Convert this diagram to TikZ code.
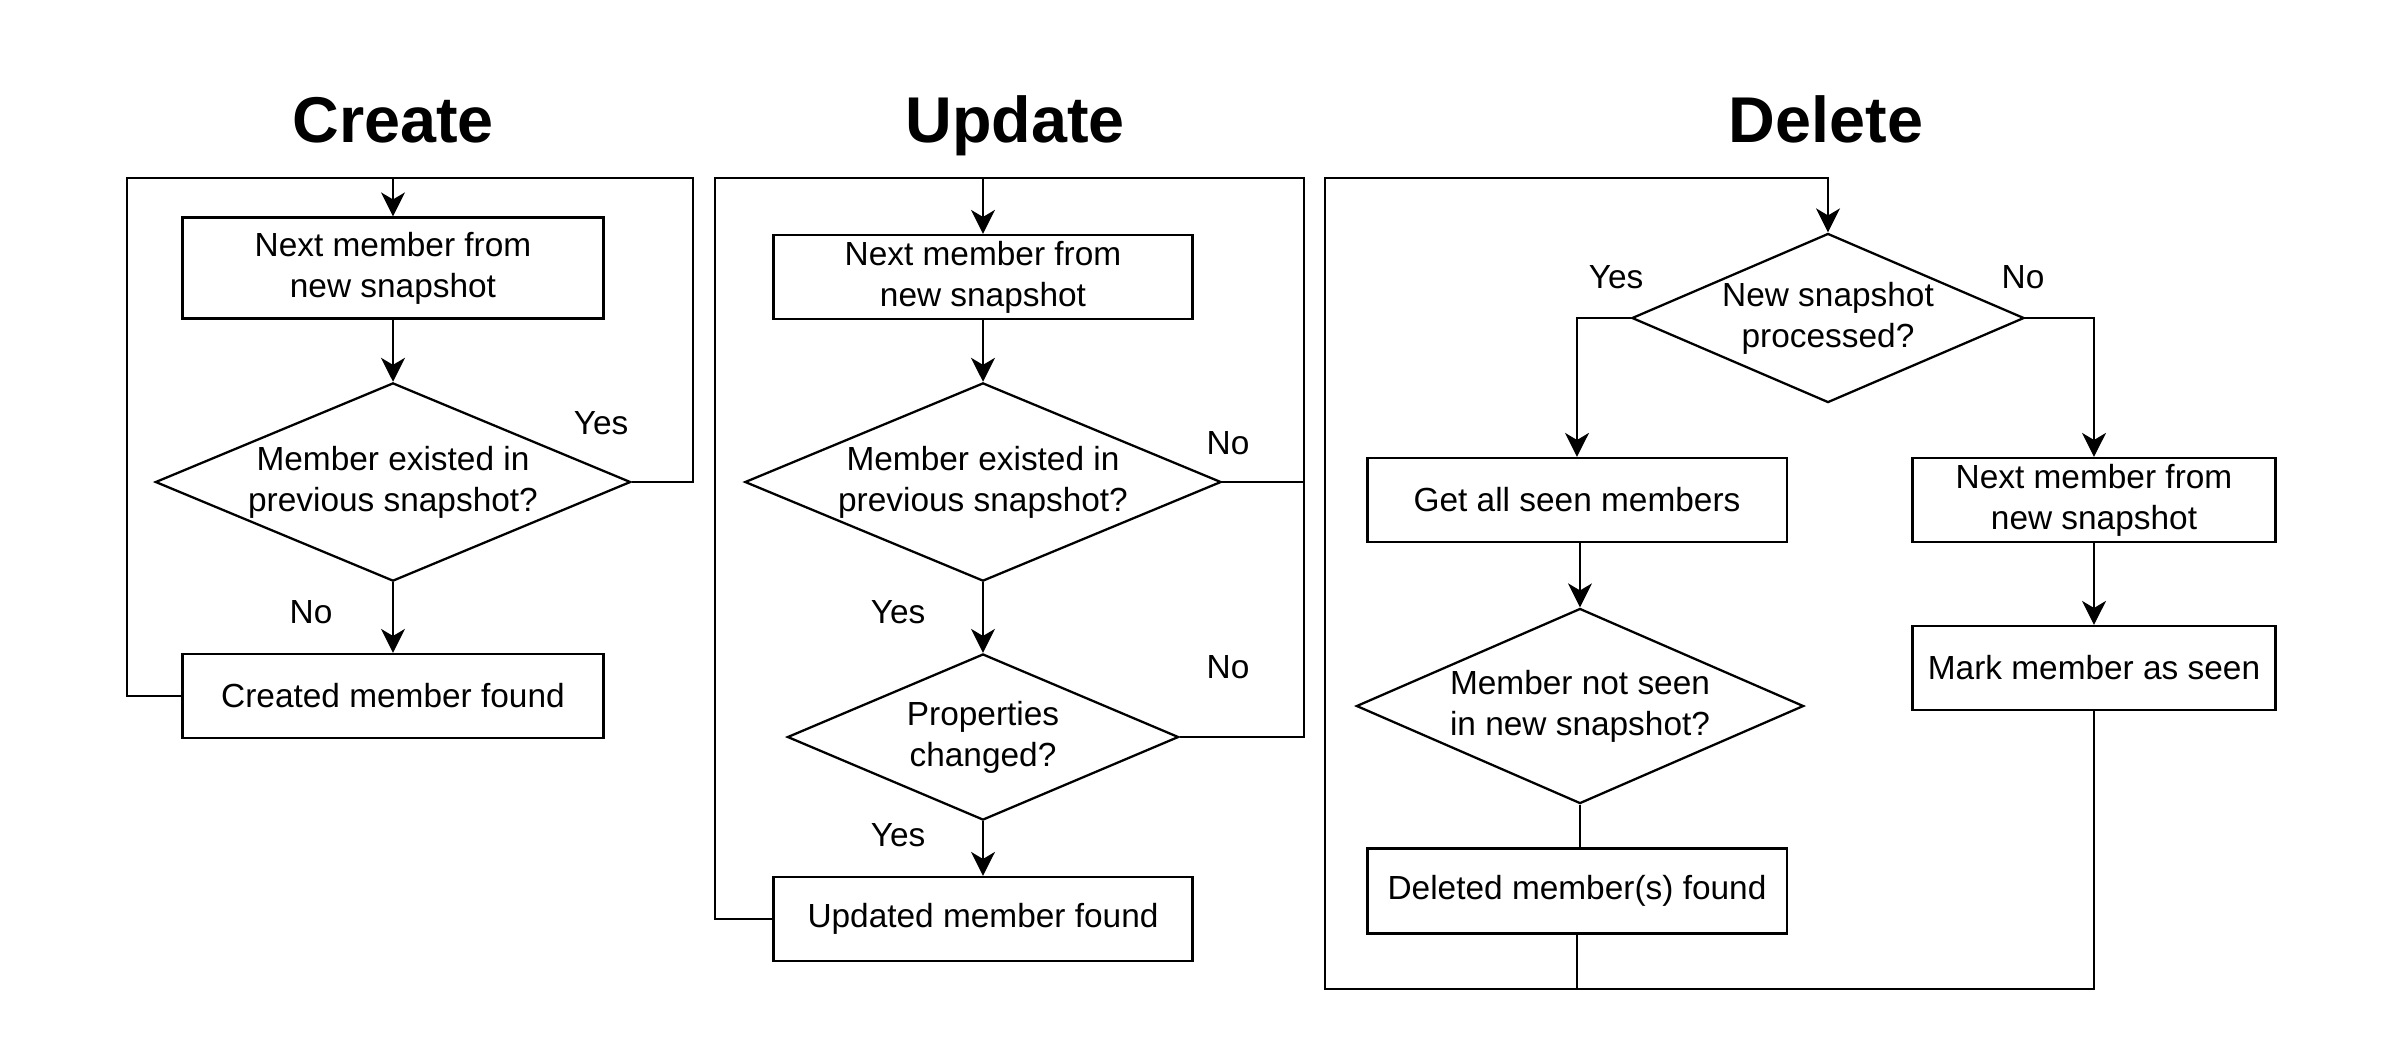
\documentclass[tikz,border=0pt]{standalone}
\usepackage{fontspec}
\setmainfont{Liberation Sans}
\usetikzlibrary{arrows.meta,shapes.geometric}

\begin{document}
\begin{tikzpicture}[x=0.01cm, y=-0.01cm, line width=0.65pt,
    every node/.style={font=\fontsize{9.5}{11.7}\selectfont, align=center, inner sep=0pt},
    box/.style={draw, rectangle, minimum height=0.84cm},
    decision/.style={draw, diamond, aspect=2.3},
    heading/.style={font=\fontsize{18.4}{22}\selectfont\bfseries, anchor=base},
    flow/.style={-{Stealth[length=6.8pt,width=6.8pt,inset=2pt]}}]
    \useasboundingbox (0,0) rectangle (2400,1050);

    % Create
    \node[heading] (create) at (393,142) {Create};
    \node[box, minimum width=4.21cm, minimum height=1.01cm] (c1) at (393,268) {Next member from\\new snapshot};
    \node[decision, minimum width=4.75cm, minimum height=1.96cm] (c2) at (393,482) {Member existed in\\previous snapshot?};
    \node[box, minimum width=4.21cm] (c3) at (393,696) {Created member found};
    \coordinate (ctop) at (393,178);
    \coordinate (cleft) at (127,178);
    \coordinate (cright) at (693,178);
    \draw[flow] (c1) -- (c2);
    \draw[flow] (c2) -- (c3);
    \draw[flow] (c2.east) -| (cright) -- (ctop) -- (c1.north);
    \draw (c3.west) -| (cleft) -- (ctop);
    \node (cyes) at (601,423) {Yes};
    \node (cno) at (311,612) {No};

    % Update
    \node[heading] (update) at (1015,142) {Update};
    \node[box, minimum width=4.19cm] (u1) at (983,277) {Next member from\\new snapshot};
    \node[decision, minimum width=4.76cm, minimum height=1.96cm] (u2) at (983,482) {Member existed in\\previous snapshot?};
    \node[decision, minimum width=3.91cm, minimum height=1.66cm] (u3) at (983,737) {Properties\\changed?};
    \node[box, minimum width=4.19cm] (u4) at (983,919) {Updated member found};
    \coordinate (utop) at (983,178);
    \coordinate (uleft) at (715,178);
    \coordinate (uright) at (1304,178);
    \draw[flow] (u1) -- (u2);
    \draw[flow] (u2) -- (u3);
    \draw[flow] (u3) -- (u4);
    \draw[flow] (u2.east) -| (uright) -- (utop) -- (u1.north);
    \draw (u3.east) -| (uright);
    \draw (u4.west) -| (uleft) -- (utop);
    \node (uno1) at (1228,443) {No};
    \node (uyes1) at (898,612) {Yes};
    \node (uno2) at (1228,667) {No};
    \node (uyes2) at (898,835) {Yes};

    % Delete
    \node[heading] (delete) at (1826,142) {Delete};
    \node[decision, minimum width=3.92cm, minimum height=1.69cm] (d1) at (1828,318) {New snapshot\\processed?};
    \node[box, minimum width=4.19cm] (d2) at (1577,500) {Get all seen members};
    \node[decision, minimum width=4.47cm, minimum height=1.95cm] (d3) at (1580,706) {Member not seen\\in new snapshot?};
    \node[box, minimum width=4.19cm, minimum height=0.85cm] (d4) at (1577,891) {Deleted member(s) found};
    \node[box, minimum width=3.63cm] (d5) at (2094,500) {Next member from\\new snapshot};
    \node[box, minimum width=3.63cm] (d6) at (2094,668) {Mark member as seen};
    \coordinate (dleft) at (1325,178);
    \coordinate (dcorner) at (1325,989);
    \draw[flow] (d1.west) -| (d2.north);
    \draw[flow] (d1.east) -| (d5.north);
    \draw[flow] (d2.south -| d3.north) -- (d3.north);
    \draw (d3.south) -- (d3.south |- d4.north);
    \draw[flow] (d5) -- (d6);
    \draw[flow] (d6.south) |- (dcorner) -- (dleft) -| (d1.north);
    \draw (d4.south) -- (d4.south |- dcorner);
    \node (dyes) at (1616,277) {Yes};
    \node (dno) at (2023,277) {No};
\end{tikzpicture}
\end{document}
